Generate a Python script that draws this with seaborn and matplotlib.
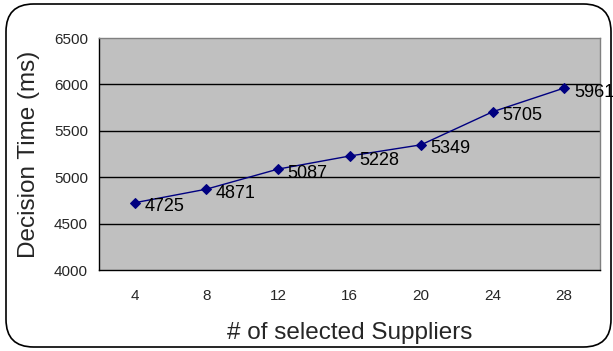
import matplotlib
matplotlib.use("Agg")
import matplotlib.pyplot as plt
from matplotlib.patches import FancyBboxPatch
import seaborn as sns
import pandas as pd
import numpy as np

suppliers = ["4", "8", "12", "16", "20", "24", "28"]
decision_time = [4725, 4871, 5087, 5228, 5349, 5705, 5961]
y_ticks = [4000, 4500, 5000, 5500, 6000, 6500]

sns.set_style("white")
plt.rcParams['font.family'] = ['Liberation Sans', 'DejaVu Sans']

df = pd.DataFrame({"pos": np.arange(len(suppliers)), "time": decision_time})

fig = plt.figure(figsize=(6.13, 3.51), dpi=100)
fig.patch.set_facecolor("white")
box = FancyBboxPatch((6/613, 4/351), 605/613, 343/351,
                     boxstyle="round,pad=0,rounding_size=0.045",
                     transform=fig.transFigure, facecolor="none",
                     edgecolor="black", linewidth=1.2, mutation_aspect=613/351)
fig.patches.append(box)

ax = fig.add_axes([99/613, 1 - 270/351, 501/613, 232/351])
ax.set_facecolor("#C0C0C0")
sns.lineplot(data=df, x="pos", y="time", ax=ax, color="#000080", linewidth=1,
             marker="D", markersize=5, markeredgecolor="#000080")

for i, v in enumerate(decision_time):
    ax.annotate(str(v), (i, v), xytext=(7, -3), textcoords="offset points",
                fontsize=13, va="center", ha="left", color="black",
                annotation_clip=False)

ax.set_xlim(-0.5, len(suppliers) - 0.5)
ax.set_ylim(4000, 6500)
ax.set_yticks(y_ticks)
ax.set_yticklabels([str(t) for t in y_ticks], fontsize=11)
ax.set_xticks(np.arange(len(suppliers)))
ax.set_xticklabels(suppliers, fontsize=11)
ax.set_xticks(np.arange(len(suppliers) + 1) - 0.5, minor=True)
ax.tick_params(axis="x", which="major", length=0, pad=14)
ax.tick_params(axis="x", which="minor", length=5, width=1, color="black", direction="out")
ax.tick_params(axis="y", which="major", length=5, width=1, color="black", direction="out", pad=3)

for t in y_ticks[1:-1]:
    ax.axhline(t, color="black", linewidth=1, zorder=0.5)

for s in ["top", "right"]:
    ax.spines[s].set_color("#808080")
    ax.spines[s].set_linewidth(1)
for s in ["left", "bottom"]:
    ax.spines[s].set_color("black")
    ax.spines[s].set_linewidth(1)

ax.set_xlabel("# of selected Suppliers", fontsize=17.5, labelpad=13)
ax.set_ylabel("Decision Time (ms)", fontsize=17.5, labelpad=10)

fig.savefig("out.png", dpi=100)
